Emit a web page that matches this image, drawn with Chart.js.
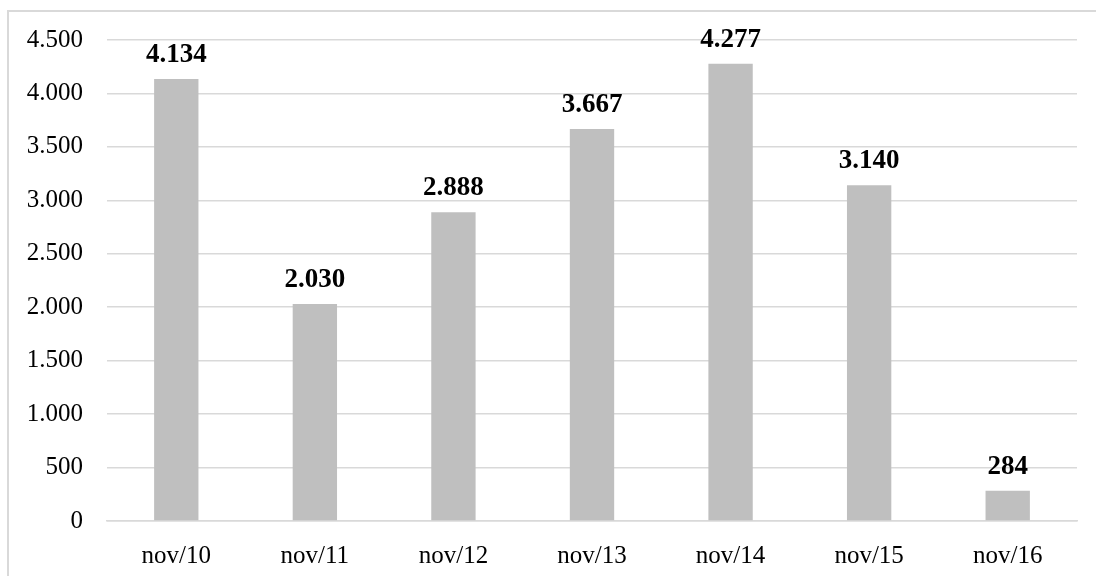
<!DOCTYPE html>
<html>
<head>
<meta charset="utf-8">
<script src="https://cdn.jsdelivr.net/npm/chart.js@4"></script>
<style>
  body { margin: 0; background: #fff; }
  #wrap { position: relative; width: 1096px; height: 576px; }
  #frame {
    position: absolute; left: 7px; top: 10px; right: -5px; bottom: -5px;
    border-left: 2px solid #d9d9d9; border-top: 2px solid #d9d9d9;
    pointer-events: none;
  }
</style>
</head>
<body>
<div id="wrap">
  <canvas id="myChart" width="1096" height="576"></canvas>
  <div id="frame"></div>
</div>
<script>
const labels = ['nov/10', 'nov/11', 'nov/12', 'nov/13', 'nov/14', 'nov/15', 'nov/16'];
const values = [4134, 2030, 2888, 3667, 4277, 3140, 284];

function fmt(n) {
  return String(Math.round(n)).replace(/\B(?=(\d{3})+(?!\d))/g, '.');
}

// valores em cima das barras
const barLabels = {
  id: 'barLabels',
  afterDatasetsDraw(chart) {
    const ctx = chart.ctx;
    const meta = chart.getDatasetMeta(0);
    ctx.save();
    ctx.font = 'bold 27px "Liberation Serif", "Times New Roman", serif';
    ctx.fillStyle = '#000';
    ctx.textAlign = 'center';
    ctx.textBaseline = 'alphabetic';
    meta.data.forEach((bar, i) => {
      ctx.fillText(fmt(values[i]), bar.x, bar.y - 17);
    });
    ctx.restore();
  }
};

new Chart(document.getElementById('myChart'), {
  type: 'bar',
  data: {
    labels: labels,
    datasets: [{
      data: values,
      backgroundColor: '#bfbfbf',
      categoryPercentage: 1,
      barPercentage: 0.32
    }]
  },
  options: {
    responsive: false,
    animation: false,
    layout: { padding: { left: 0, top: 40, right: 19, bottom: 0 } },
    plugins: {
      legend: { display: false },
      tooltip: { enabled: false }
    },
    scales: {
      x: {
        grid: { display: false },
        border: { color: '#d9d9d9', width: 1.5 },
        ticks: {
          color: '#000',
          padding: 12,
          font: { family: '"Liberation Serif", "Times New Roman", serif', size: 25 }
        },
        afterFit(scale) { scale.height = 55; }
      },
      y: {
        min: 0,
        max: 4500,
        grid: { color: '#d9d9d9', lineWidth: 1.5, drawTicks: false },
        border: { display: false },
        ticks: {
          stepSize: 500,
          color: '#000',
          padding: 24,
          font: { family: '"Liberation Serif", "Times New Roman", serif', size: 25 },
          callback: v => fmt(v)
        },
        afterFit(scale) { scale.width = 107; }
      }
    }
  },
  plugins: [barLabels]
});
</script>
</body>
</html>
